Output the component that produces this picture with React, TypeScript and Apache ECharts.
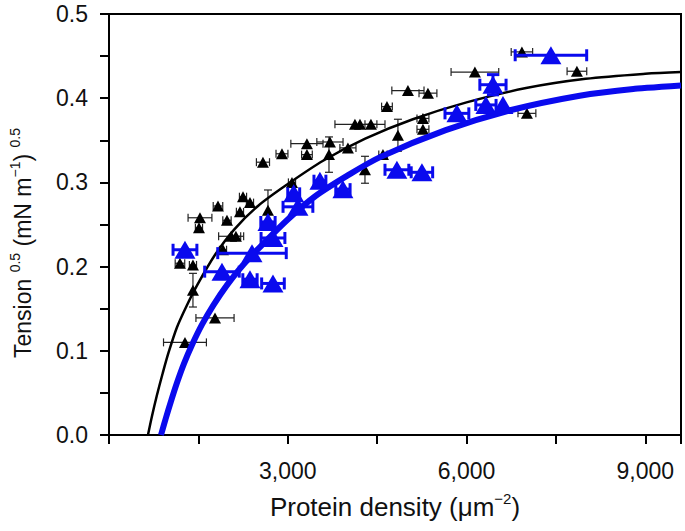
import React, { useEffect, useRef } from "react";
import * as echarts from "echarts";

// Black (small triangles) data: protein density, tension^0.5, x error, y error
const blackX = [1275, 1779, 1409, 1191, 1409, 1527, 1510, 1829, 1980, 2050, 2130, 1913, 2198, 2249, 2366, 2584, 2668, 2903, 3071, 3322, 3322, 3708, 3692, 4010, 4296, 4128, 4212, 4396, 4665, 4849, 5017, 5353, 5269, 5269, 4598, 6141, 6930, 7853, 7014];
const blackY = [0.110, 0.139, 0.172, 0.204, 0.202, 0.258, 0.246, 0.272, 0.255, 0.236, 0.236, 0.220, 0.265, 0.283, 0.276, 0.324, 0.267, 0.334, 0.300, 0.346, 0.333, 0.348, 0.333, 0.341, 0.315, 0.369, 0.369, 0.369, 0.390, 0.356, 0.409, 0.406, 0.376, 0.363, 0.333, 0.431, 0.455, 0.432, 0.382];
const blackXErr = [360, 320, 0, 80, 60, 200, 60, 80, 70, 210, 80, 60, 60, 60, 60, 110, 0, 100, 60, 270, 90, 220, 0, 135, 0, 0, 420, 100, 90, 0, 270, 150, 100, 100, 70, 400, 180, 165, 150];
const blackYErr = [0, 0, 0.020, 0, 0, 0, 0, 0, 0, 0, 0, 0, 0, 0, 0, 0, 0.024, 0, 0, 0, 0, 0, 0.021, 0, 0.016, 0, 0, 0, 0, 0.019, 0, 0, 0, 0, 0, 0, 0, 0, 0];

// Blue (large triangles) data
const blueX = [1275, 1896, 2400, 2366, 2752, 2752, 2668, 3171, 3100, 3540, 3926, 4832, 5252, 5839, 6326, 6444, 6612, 7417];
const blueY = [0.220, 0.194, 0.216, 0.185, 0.180, 0.234, 0.253, 0.271, 0.287, 0.302, 0.292, 0.315, 0.312, 0.382, 0.392, 0.416, 0.392, 0.451];
const blueXErr = [200, 290, 575, 120, 190, 200, 120, 250, 100, 100, 120, 200, 180, 200, 170, 220, 0, 600];
const blueYErr = [0, 0, 0, 0, 0, 0, 0, 0, 0, 0, 0, 0, 0, 0, 0, 0.012, 0, 0];

// Fitted curves
const blackFitX = [654, 720, 800, 900, 1000, 1141, 1300, 1480, 1780, 2100, 2500, 3000, 3600, 4300, 5100, 6000, 7000, 8000, 9000, 9600];
const blackFitY = [0, 0.022, 0.046, 0.073, 0.098, 0.128, 0.153, 0.178, 0.214, 0.244, 0.272, 0.298, 0.326, 0.352, 0.375, 0.395, 0.412, 0.423, 0.429, 0.431];
const blueFitX = [873, 950, 1040, 1141, 1260, 1400, 1560, 1750, 1980, 2250, 2600, 3000, 3450, 4000, 4550, 5650, 6750, 7900, 8800, 9600];
const blueFitY = [0, 0.019, 0.040, 0.062, 0.085, 0.108, 0.131, 0.154, 0.178, 0.202, 0.228, 0.256, 0.283, 0.308, 0.330, 0.362, 0.386, 0.403, 0.411, 0.415];

const xTickLabels = ["3,000", "6,000", "9,000"];
const yTickLabels = ["0.0", "0.1", "0.2", "0.3", "0.4", "0.5"];

const FONT = "'Liberation Sans', Arial, Helvetica, sans-serif";
const BLUE = "#0a0aee";

function errRender(color: string, lw: number, cap: number) {
  return (params: any, api: any) => {
    const x = api.value(0);
    const y = api.value(1);
    const xe = api.value(2);
    const ye = api.value(3);
    const children: any[] = [];
    const st = { stroke: color, lineWidth: lw };
    if (xe > 0) {
      const p1 = api.coord([x - xe, y]);
      const p2 = api.coord([x + xe, y]);
      children.push({ type: "line", shape: { x1: p1[0], y1: p1[1], x2: p2[0], y2: p2[1] }, style: st });
      children.push({ type: "line", shape: { x1: p1[0], y1: p1[1] - cap, x2: p1[0], y2: p1[1] + cap }, style: st });
      children.push({ type: "line", shape: { x1: p2[0], y1: p2[1] - cap, x2: p2[0], y2: p2[1] + cap }, style: st });
    }
    if (ye > 0) {
      const p1 = api.coord([x, y - ye]);
      const p2 = api.coord([x, y + ye]);
      children.push({ type: "line", shape: { x1: p1[0], y1: p1[1], x2: p2[0], y2: p2[1] }, style: st });
      children.push({ type: "line", shape: { x1: p1[0] - cap, y1: p1[1], x2: p1[0] + cap, y2: p1[1] }, style: st });
      children.push({ type: "line", shape: { x1: p2[0] - cap, y1: p2[1], x2: p2[0] + cap, y2: p2[1] }, style: st });
    }
    return { type: "group", children };
  };
}

export default function App() {
  const ref = useRef<HTMLDivElement>(null);
  useEffect(() => {
    if (!ref.current) return;
    const chart = echarts.init(ref.current, undefined, { renderer: "svg" });
    const blackPts = blackX.map((x, i) => [x, blackY[i]]);
    const bluePts = blueX.map((x, i) => [x, blueY[i]]);
    const blackErr = blackX.map((x, i) => [x, blackY[i], blackXErr[i], blackYErr[i]]);
    const blueErr = blueX.map((x, i) => [x, blueY[i], blueXErr[i], blueYErr[i]]);
    const blackFit = blackFitX.map((x, i) => [x, blackFitY[i]]);
    const blueFit = blueFitX.map((x, i) => [x, blueFitY[i]]);

    chart.setOption({
      animation: false,
      backgroundColor: "#fff",
      grid: { left: 109, right: 4, top: 14, bottom: 96, show: true, borderColor: "#000", borderWidth: 2, backgroundColor: "transparent" },
      xAxis: {
        type: "value",
        min: 0,
        max: 9600,
        interval: 1500,
        splitLine: { show: false },
        axisLine: { show: true, onZero: false, lineStyle: { color: "#000", width: 2 } },
        axisTick: { show: true, inside: false, length: 9, lineStyle: { color: "#000", width: 2 } },
        axisLabel: {
          margin: 24,
          color: "#111",
          fontSize: 23,
          fontFamily: FONT,
          formatter: (v: number) => {
            const idx = [3000, 6000, 9000].indexOf(v);
            return idx >= 0 ? xTickLabels[idx] : "";
          },
        },
        name: "Protein density (μm{sup|−2})",
        nameLocation: "middle",
        nameGap: 56,
        nameTextStyle: {
          color: "#111",
          fontSize: 26,
          fontFamily: FONT,
          lineHeight: 32,
          rich: { sup: { fontSize: 15, fontFamily: FONT, color: "#111", verticalAlign: "top", lineHeight: 32 } },
        },
      },
      yAxis: {
        type: "value",
        min: 0,
        max: 0.5,
        interval: 0.05,
        splitLine: { show: false },
        axisLine: { show: true, lineStyle: { color: "#000", width: 2 } },
        axisTick: { show: true, inside: false, length: 9, lineStyle: { color: "#000", width: 2 } },
        axisLabel: {
          margin: 21,
          color: "#111",
          fontSize: 23,
          fontFamily: FONT,
          formatter: (v: number) => {
            const k = Math.round(v * 10);
            if (Math.abs(v * 10 - k) > 1e-6) return "";
            return yTickLabels[k] ?? "";
          },
        },
      },
      graphic: [
        {
          type: "text",
          x: 23,
          y: 243,
          rotation: Math.PI / 2,
          style: {
            text: "Tension {sup|0.5} (mN m{sup|−1}) {sup|0.5}",
            fill: "#111",
            fontSize: 23,
            fontFamily: FONT,
            lineHeight: 30,
            align: "center",
            verticalAlign: "middle",
            rich: {
              sup: { fontSize: 14, fontFamily: FONT, fill: "#111", verticalAlign: "top", lineHeight: 30 },
            },
          },
        },
      ],
      series: [
        {
          type: "custom",
          name: "blackErr",
          renderItem: errRender("#222", 1.2, 4),
          data: blackErr,
          encode: { x: 0, y: 1 },
          z: 2,
        },
        {
          type: "scatter",
          name: "black",
          data: blackPts,
          symbol: "triangle",
          symbolSize: [12, 11],
          itemStyle: { color: "#000", opacity: 1 },
          z: 3,
        },
        {
          type: "line",
          name: "blackFit",
          data: blackFit,
          smooth: 0.3,
          showSymbol: false,
          symbol: "none",
          lineStyle: { color: "#000", width: 2.5 },
          z: 4,
        },
        {
          type: "line",
          name: "blueFit",
          data: blueFit,
          smooth: 0.3,
          showSymbol: false,
          symbol: "none",
          lineStyle: { color: BLUE, width: 6 },
          z: 5,
        },
        {
          type: "custom",
          name: "blueErr",
          renderItem: errRender(BLUE, 3, 6),
          data: blueErr,
          encode: { x: 0, y: 1 },
          z: 6,
        },
        {
          type: "scatter",
          name: "blue",
          data: bluePts,
          symbol: "triangle",
          symbolSize: [21, 18],
          itemStyle: { color: BLUE, opacity: 1 },
          z: 7,
        },
      ],
    });
    return () => chart.dispose();
  }, []);
  return <div ref={ref} style={{ position: "fixed", left: 0, top: 0, width: 685, height: 531 }} />;
}
